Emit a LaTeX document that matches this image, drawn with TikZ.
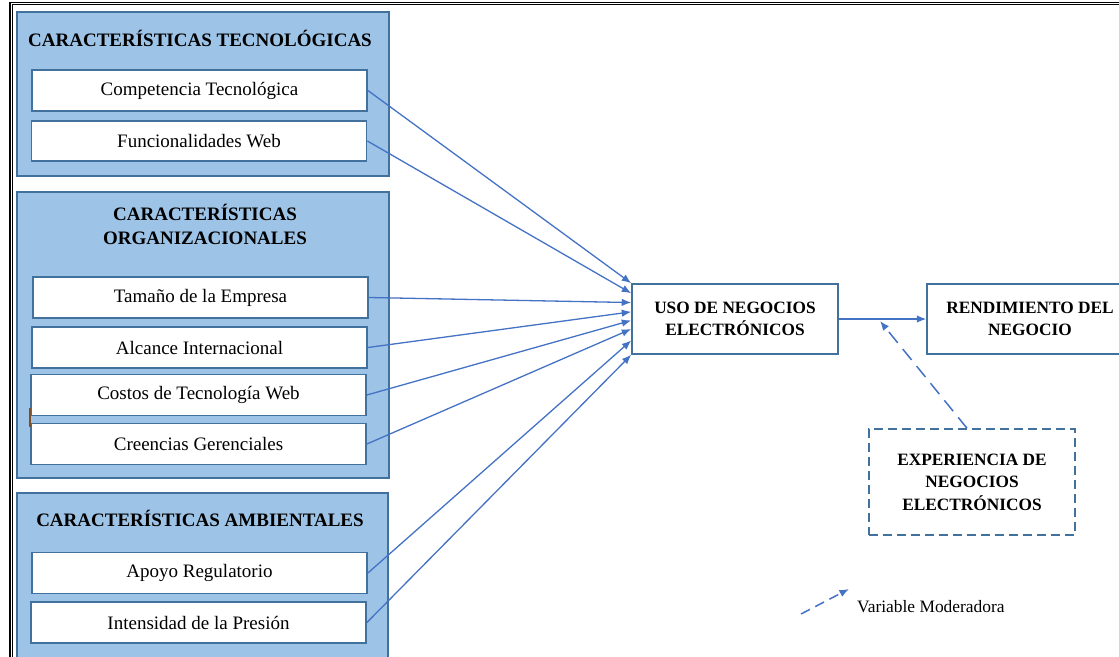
\documentclass[tikz,border=0pt]{standalone}
\usepackage{fontspec}
\setmainfont{Liberation Serif}
\usetikzlibrary{arrows.meta,calc}

\definecolor{groupfill}{HTML}{9DC3E6}
\definecolor{groupline}{HTML}{41719C}
\definecolor{arrowblue}{HTML}{4472C4}
\definecolor{markbrown}{HTML}{7F4F24}

\tikzset{
  groupbox/.style={draw=groupline, fill=groupfill, line width=1.8pt, inner sep=0pt},
  grouptitle/.style={font=\bfseries\fontsize{19}{24}\selectfont, align=center, inner sep=0pt},
  itembox/.style={draw=groupline, fill=white, line width=1.8pt, minimum width=335, minimum height=41,
    inner sep=0pt, font=\fontsize{19}{22}\selectfont},
  mainbox/.style={draw=groupline, fill=white, line width=1.5pt, minimum width=206, minimum height=70,
    inner sep=0pt, align=center, font=\bfseries\fontsize{17.3}{22.5}\selectfont},
  modbox/.style={mainbox, dash pattern=on 9pt off 5pt, minimum height=106},
  link/.style={draw=arrowblue, line width=1.3pt, -{Latex[length=9.5pt,width=7.5pt]}},
  modlink/.style={link, line width=1.5pt, dash pattern=on 14pt off 8pt},
  legendlink/.style={link, line width=1.5pt, dash pattern=on 10pt off 6pt},
  frameline/.style={draw=black, line width=1.3pt},
}

\begin{document}
\begin{tikzpicture}[x=1pt, y=-1pt]
  \useasboundingbox (0,0) rectangle (1119,656);
  \clip (0,0) rectangle (1119,656);

  % page frame (double rule on top and left)
  \draw[frameline] (1140,2.5) -- (10,2.5) -- (10,680);
  \draw[frameline] (1140,4.6) -- (12.3,4.6) -- (12.3,680);

  % group panels
  \node[groupbox, minimum width=372, minimum height=164] (gtec) at (203,94) {};
  \node[groupbox, minimum width=372, minimum height=286] (gorg) at (203,335) {};
  \node[groupbox, minimum width=371, minimum height=200] (gamb) at (202.5,593) {};

  \node[grouptitle] (ttec) at (200,38) {CARACTERÍSTICAS TECNOLÓGICAS};
  \node[grouptitle] (torg) at (205,224.5) {CARACTERÍSTICAS\\ORGANIZACIONALES};
  \node[grouptitle] (tamb) at (200,518) {CARACTERÍSTICAS AMBIENTALES};

  % factor boxes
  \node[itembox] (comp) at (199.5,90.5) {Competencia Tecnológica};
  \node[itembox, minimum height=40] (func) at (199,141) {Funcionalidades Web};
  \node[itembox] (tam) at (200.5,297.5) {Tamaño de la Empresa};
  \node[itembox] (alc) at (199.5,347.5) {Alcance Internacional};
  \node[itembox] (cos) at (198.5,395) {Costos de Tecnología Web};
  \node[itembox] (cre) at (198.5,444) {Creencias Gerenciales};
  \node[itembox] (apo) at (199.5,573) {Apoyo Regulatorio};
  \node[itembox] (int) at (198.5,622.5) {Intensidad de la Presión};

  % small stray mark at the left of the cost box
  \draw[markbrown, line width=2pt] (30,408) -- (30,427);

  % main constructs
  \node[mainbox] (uso) at (735,319) {USO DE NEGOCIOS\\ELECTRÓNICOS};
  \node[mainbox] (ren) at (1030,319) {RENDIMIENTO DEL\\NEGOCIO};
  \node[modbox] (exp) at (972,482) {EXPERIENCIA DE\\NEGOCIOS\\ELECTRÓNICOS};

  % arrows into the usage construct
  \draw[link] (comp.east) -- ($(uso.north west)!0.0!(uso.south west)$);
  \draw[link] (func.east) -- ($(uso.north west)!0.14!(uso.south west)$);
  \draw[link] (tam.east)  -- ($(uso.north west)!0.27!(uso.south west)$);
  \draw[link] (alc.east)  -- ($(uso.north west)!0.40!(uso.south west)$);
  \draw[link] (cos.east)  -- ($(uso.north west)!0.52!(uso.south west)$);
  \draw[link] (cre.east)  -- ($(uso.north west)!0.64!(uso.south west)$);
  \draw[link] (apo.east)  -- ($(uso.north west)!0.80!(uso.south west)$);
  \draw[link] (int.east)  -- ($(uso.north west)!1.0!(uso.south west)$);

  \draw[link] (uso.east) -- (ren.west);

  % moderating effect
  \coordinate (modtip) at (880,321);
  \draw[modlink] ([xshift=-5]exp.north) -- (modtip);

  % legend
  \coordinate (legs) at (801,614);
  \coordinate (lege) at (849,589);
  \draw[legendlink] (legs) -- (lege);
  \node[anchor=west, inner sep=0pt, font=\fontsize{17.4}{20}\selectfont] (legt) at (857,607) {Variable Moderadora};
\end{tikzpicture}
\end{document}
